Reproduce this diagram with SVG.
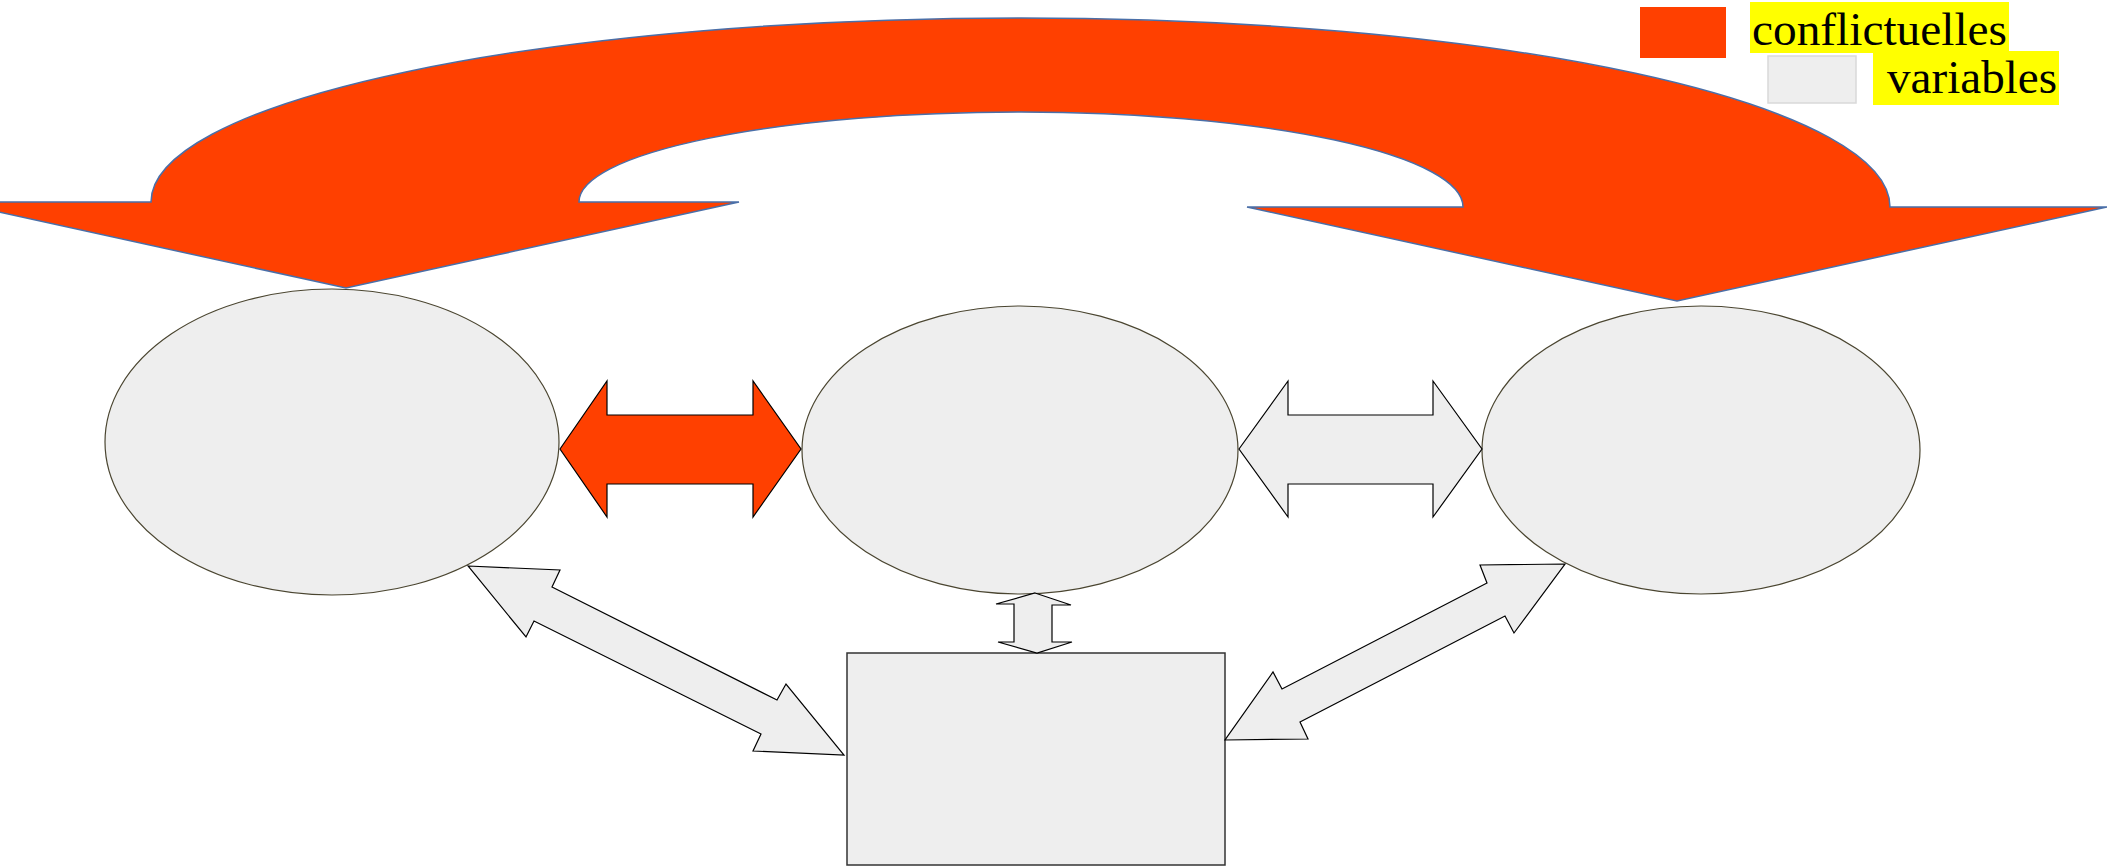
<svg xmlns="http://www.w3.org/2000/svg" width="2107" height="866" viewBox="0 0 2107 866">
<style>
.node{fill:#EEEEEE;stroke:#4a4530;stroke-width:1.2}
.box{fill:#EEEEEE;stroke:#333333;stroke-width:1.5}
.garrow{fill:#EEEEEE;stroke:#000000;stroke-width:1.2;stroke-linejoin:miter}
.oarrow{fill:#FF4000;stroke:#000000;stroke-width:1.2}
.curve{fill:#FF4000;stroke:#4a6fa8;stroke-width:1.5;stroke-linejoin:miter}
.hl{fill:#FFFF00}
.lbl{font-family:"Liberation Serif","Times New Roman",serif;font-size:47px;fill:#000000}
</style>
<rect width="2107" height="866" fill="#FFFFFF"/>
<g id="node-left"><ellipse class="node" cx="332" cy="442" rx="227" ry="153"/></g>
<g id="node-middle"><ellipse class="node" cx="1020" cy="450" rx="218" ry="144"/></g>
<g id="node-right"><ellipse class="node" cx="1701" cy="450" rx="219" ry="144"/></g>
<g id="node-box"><rect class="box" x="847" y="653" width="378" height="212"/></g>
<g id="connectors">
<path class="curve" d="M-47,202 L151,202 A870,184 0 0 1 1021,18 A869,189 0 0 1 1890,207 L2107,207 L1677,301 L1247,207 L1463,207 A442,95 0 0 0 1021,112 A442,90 0 0 0 579,202 L739,202 L346,288 Z"/>
<polygon class="oarrow" points="560,449 607,381 607,415 753,415 753,381 801,449 753,517 753,484 607,484 607,517"/>
<polygon class="garrow" points="1239,449 1288,381 1288,415 1433,415 1433,381 1482,449 1433,517 1433,484 1288,484 1288,517"/>
<polygon class="garrow" points="1035,593 1071,605 1052,605 1052,642 1072,642 1037,653 998,642 1014,642 1014,604 996,604"/>
<polygon class="garrow" points="468,566 560,570 552,587 777,700 786,684 844,755 753,751 761,734 534,621 526,637"/>
<polygon class="garrow" points="1565,564 1480,565 1487,583 1282,689 1273,672 1225,740 1308,739 1300,722 1505,616 1514,633"/>
</g>
<g id="legend">
<rect x="1640" y="7" width="86" height="51" fill="#FF4000"/>
<rect x="1768" y="56" width="88" height="47" fill="#EEEEEE" stroke="#D9D9D9" stroke-width="1.5"/>
<rect class="hl" x="1750" y="2" width="259" height="51"/>
<rect class="hl" x="1873" y="51" width="186" height="54"/>
<text class="lbl" x="1752" y="45" textLength="255" lengthAdjust="spacingAndGlyphs">conflictuelles</text>
<text class="lbl" x="1887" y="93" textLength="170" lengthAdjust="spacingAndGlyphs">variables</text>
</g>
</svg>
